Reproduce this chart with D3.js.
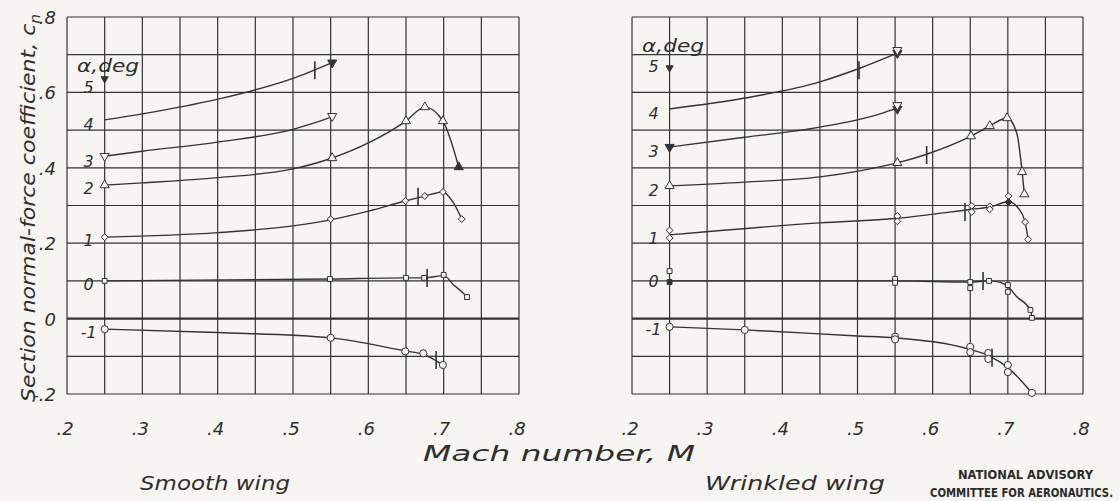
<!DOCTYPE html>
<html lang="en">
<head>
<meta charset="UTF-8">
<title>Section normal-force coefficient vs Mach number</title>
<style>
  body { margin: 0; background: #f6f5f1; }
  svg { display: block; }
  .hand { font-family: "DejaVu Sans", sans-serif; font-style: italic; font-weight: 200; fill: #2e2e2e; }
  .naca { font-family: "DejaVu Sans Condensed", "DejaVu Sans", sans-serif; font-weight: bold; fill: #2a2a2a; }
</style>
</head>
<body>
<svg width="1120" height="501"></svg>
<script src="https://d3js.org/d3.v7.min.js"></script>
<script>
// axis ticks
const xTicks = [0.2, 0.3, 0.4, 0.5, 0.6, 0.7, 0.8];
const xTickLabels = [".2", ".3", ".4", ".5", ".6", ".7", ".8"];
const yTicks = [0.8, 0.6, 0.4, 0.2, 0, -0.2];
const yTickLabels = [".8", ".6", ".4", ".2", "0", "-.2"];
const alphas = [5, 4, 3, 2, 1, 0, -1];

// smooth wing: faired curves [M, cn]
const smooth4 = [[0.25, 0.527], [0.3, 0.543], [0.4, 0.582], [0.5, 0.637], [0.552, 0.679]];
const smooth3 = [[0.25, 0.431], [0.3, 0.444], [0.4, 0.468], [0.5, 0.502], [0.552, 0.535]];
const smooth2 = [[0.25, 0.354], [0.3, 0.36], [0.4, 0.374], [0.5, 0.397], [0.552, 0.426], [0.6, 0.466], [0.65, 0.524], [0.675, 0.561], [0.699, 0.524], [0.72, 0.402]];
const smooth1 = [[0.25, 0.216], [0.4, 0.228], [0.5, 0.246], [0.55, 0.262], [0.6, 0.285], [0.649, 0.312], [0.675, 0.325], [0.699, 0.336], [0.712, 0.31], [0.724, 0.264]];
const smooth0 = [[0.25, 0.1], [0.55, 0.105], [0.65, 0.108], [0.674, 0.108], [0.7, 0.114], [0.713, 0.09], [0.724, 0.071], [0.731, 0.057]];
const smoothM1 = [[0.25, -0.028], [0.4, -0.037], [0.55, -0.051], [0.649, -0.086], [0.673, -0.095], [0.699, -0.123]];

// smooth wing: test points [alpha, M, cn, run]
const smoothPoints = [
  [5, 0.25, 0.636, 1],
  [4, 0.552, 0.679, 1],
  [3, 0.25, 0.431, 0], [3, 0.552, 0.537, 0],
  [2, 0.25, 0.354, 0], [2, 0.552, 0.426, 0], [2, 0.65, 0.524, 0], [2, 0.675, 0.561, 0], [2, 0.699, 0.524, 0], [2, 0.72, 0.402, 1],
  [1, 0.25, 0.216, 0], [1, 0.55, 0.264, 0], [1, 0.649, 0.312, 0], [1, 0.675, 0.325, 0], [1, 0.699, 0.336, 0], [1, 0.724, 0.264, 0],
  [0, 0.25, 0.1, 0], [0, 0.549, 0.105, 0], [0, 0.65, 0.108, 0], [0, 0.674, 0.108, 0], [0, 0.7, 0.116, 0], [0, 0.731, 0.057, 0],
  [-1, 0.25, -0.028, 0], [-1, 0.55, -0.051, 0], [-1, 0.649, -0.087, 0], [-1, 0.673, -0.092, 0], [-1, 0.699, -0.123, 0]
];
// critical Mach number marks [alpha, M, cn]
const smoothCrit = [[4, 0.529, 0.659], [1, 0.666, 0.323], [0, 0.678, 0.108], [-1, 0.69, -0.11]];
// cn at which each alpha number is written
const smoothLabelCn = [0.615, 0.515, 0.418, 0.346, 0.208, 0.092, -0.036];

// wrinkled wing
const wrinkled4 = [[0.25, 0.556], [0.35, 0.585], [0.45, 0.628], [0.503, 0.664], [0.553, 0.704]];
const wrinkled3 = [[0.25, 0.455], [0.35, 0.481], [0.45, 0.508], [0.53, 0.543], [0.553, 0.559]];
const wrinkled2 = [[0.25, 0.352], [0.35, 0.362], [0.45, 0.376], [0.503, 0.392], [0.553, 0.413], [0.592, 0.436], [0.651, 0.484], [0.676, 0.511], [0.699, 0.532], [0.712, 0.491], [0.719, 0.389], [0.722, 0.33]];
const wrinkled1 = [[0.25, 0.222], [0.45, 0.254], [0.553, 0.266], [0.652, 0.29], [0.676, 0.296], [0.701, 0.31], [0.715, 0.29], [0.723, 0.256], [0.727, 0.21]];
const wrinkled0 = [[0.25, 0.1], [0.55, 0.1], [0.65, 0.097], [0.675, 0.1], [0.69, 0.096], [0.7, 0.085], [0.712, 0.058], [0.73, 0.023], [0.732, 0.004]];
const wrinkledM1 = [[0.25, -0.022], [0.35, -0.03], [0.5, -0.046], [0.55, -0.051], [0.65, -0.082], [0.674, -0.098], [0.7, -0.13], [0.732, -0.197]];

const wrinkledPoints = [
  [5, 0.25, 0.665, 1],
  [4, 0.553, 0.704, 1], [4, 0.553, 0.712, 0],
  [3, 0.25, 0.455, 1], [3, 0.553, 0.556, 1], [3, 0.553, 0.566, 0],
  [2, 0.25, 0.352, 0], [2, 0.553, 0.413, 0], [2, 0.651, 0.484, 0], [2, 0.676, 0.511, 0], [2, 0.699, 0.532, 0], [2, 0.719, 0.389, 0], [2, 0.722, 0.33, 0],
  [1, 0.25, 0.234, 0], [1, 0.25, 0.214, 0], [1, 0.553, 0.272, 0], [1, 0.553, 0.258, 0], [1, 0.652, 0.299, 0], [1, 0.652, 0.283, 0],
  [1, 0.676, 0.298, 0], [1, 0.676, 0.29, 0], [1, 0.701, 0.325, 0], [1, 0.701, 0.309, 1], [1, 0.723, 0.256, 0], [1, 0.727, 0.21, 0],
  [0, 0.25, 0.126, 0], [0, 0.25, 0.097, 1], [0, 0.55, 0.105, 0], [0, 0.55, 0.095, 0], [0, 0.65, 0.097, 0], [0, 0.65, 0.081, 0],
  [0, 0.675, 0.1, 0], [0, 0.7, 0.089, 0], [0, 0.7, 0.071, 0], [0, 0.73, 0.023, 0], [0, 0.732, 0.002, 0],
  [-1, 0.25, -0.022, 0], [-1, 0.35, -0.03, 0], [-1, 0.55, -0.048, 0], [-1, 0.55, -0.055, 0], [-1, 0.65, -0.075, 0], [-1, 0.65, -0.089, 0],
  [-1, 0.674, -0.091, 0], [-1, 0.674, -0.107, 0], [-1, 0.7, -0.123, 0], [-1, 0.7, -0.142, 0], [-1, 0.732, -0.197, 0]
];
const wrinkledCrit = [[4, 0.502, 0.659], [2, 0.592, 0.434], [1, 0.643, 0.283], [0, 0.667, 0.1], [-1, 0.679, -0.104]];
const wrinkledLabelCn = [0.67, 0.546, 0.444, 0.342, 0.215, 0.1, -0.028];

const svg = d3.select("svg");
const ink = "#333";
const paper = "#f6f5f1";

const y = d3.scaleLinear().domain([-0.2, 0.8]).range([394, 17]);

const symbolFor = {
  "5": d3.symbolTriangle, "4": d3.symbolTriangle, "3": d3.symbolTriangle,
  "2": d3.symbolTriangle, "1": d3.symbolDiamond2, "0": d3.symbolSquare2, "-1": d3.symbolCircle
};

function drawPanel(x0, x1, curves, points, crit, labelCn, alphaBase) {
  const x = d3.scaleLinear().domain([0.2, 0.8]).range([x0, x1]);
  const g = svg.append("g");

  // grid
  const vLines = d3.range(0, 13).map(i => 0.2 + i * 0.05);
  const hLines = d3.range(0, 11).map(i => -0.2 + i * 0.1);
  g.selectAll(".v").data(vLines).enter().append("line")
    .attr("x1", d => x(d)).attr("x2", d => x(d))
    .attr("y1", y(0.8)).attr("y2", y(-0.2))
    .attr("stroke", ink).attr("stroke-width", 1.2);
  g.selectAll(".h").data(hLines).enter().append("line")
    .attr("x1", x(0.2)).attr("x2", x(0.8))
    .attr("y1", d => y(d)).attr("y2", d => y(d))
    .attr("stroke", ink)
    .attr("stroke-width", d => Math.abs(d) < 1e-6 ? 2.2 : 1.2);

  // x tick labels
  g.selectAll(".xt").data(xTicks).enter().append("text")
    .attr("class", "hand")
    .attr("x", d => x(d) - 2).attr("y", 435)
    .attr("text-anchor", "middle")
    .style("font-size", "18px")
    .text((d, i) => xTickLabels[i]);

  // faired curves
  const line = d3.line()
    .x(d => x(d[0])).y(d => y(d[1]))
    .curve(d3.curveMonotoneX);
  g.selectAll(".curve").data(curves).enter().append("path")
    .attr("d", d => line(d))
    .attr("fill", "none")
    .attr("stroke", ink)
    .attr("stroke-width", 1.4);

  // critical Mach ticks
  g.selectAll(".crit").data(crit).enter().append("line")
    .attr("x1", d => x(d[1])).attr("x2", d => x(d[1]))
    .attr("y1", d => y(d[2]) - 9).attr("y2", d => y(d[2]) + 9)
    .attr("stroke", ink).attr("stroke-width", 1.6);

  // test points
  g.selectAll(".pt").data(points).enter().append("path")
    .attr("transform", d => {
      const down = d[0] >= 3;
      return "translate(" + x(d[1]) + "," + y(d[2]) + ")" + (down ? " rotate(180)" : "");
    })
    .attr("d", d => d3.symbol().type(symbolFor[String(d[0])])
      .size(d[0] === 5 ? 22 : (d[0] === -1 ? 40 : (d[0] >= 2 ? 36 : 30)))())
    .attr("fill", d => d[3] === 1 ? ink : paper)
    .attr("stroke", ink)
    .attr("stroke-width", 1);

  // alpha labels
  const lx = x(0.25) - 16;
  g.selectAll(".al").data(alphas).enter().append("text")
    .attr("class", "hand")
    .attr("x", lx).attr("y", (d, i) => y(labelCn[i]) + 6)
    .attr("text-anchor", "middle")
    .style("font-size", "16px")
    .text(d => d === -1 ? "-1" : String(d));

  g.append("text")
    .attr("class", "hand")
    .attr("x", x(0.2) + 10).attr("y", alphaBase)
    .style("font-size", "17px")
    .attr("textLength", 62)
    .attr("lengthAdjust", "spacingAndGlyphs")
    .text("\u03b1,deg");

  return x;
}

drawPanel(67, 519, [smooth4, smooth3, smooth2, smooth1, smooth0, smoothM1], smoothPoints, smoothCrit, smoothLabelCn, 72);
drawPanel(632, 1083, [wrinkled4, wrinkled3, wrinkled2, wrinkled1, wrinkled0, wrinkledM1], wrinkledPoints, wrinkledCrit, wrinkledLabelCn, 52);

// y tick labels (left panel only)
svg.selectAll(".yt").data(yTicks).enter().append("text")
  .attr("class", "hand")
  .attr("x", 56).attr("y", d => y(d) + 7)
  .attr("text-anchor", "end")
  .style("font-size", "18px")
  .text((d, i) => yTickLabels[i]);

// y axis title
const yTitle = svg.append("text")
  .attr("class", "hand")
  .attr("transform", "translate(35,402) rotate(-90)")
  .style("font-size", "20px")
  .attr("textLength", 388)
  .attr("lengthAdjust", "spacingAndGlyphs");
yTitle.append("tspan").text("Section normal-force coefficient, c");
yTitle.append("tspan").attr("dy", 5).style("font-size", "14px").text("n");

svg.append("text")
  .attr("class", "hand")
  .attr("x", 423).attr("y", 461)
  .style("font-size", "22px")
  .attr("textLength", 272)
  .attr("lengthAdjust", "spacingAndGlyphs")
  .text("Mach number, M");

svg.append("text")
  .attr("class", "hand")
  .attr("x", 140).attr("y", 490)
  .style("font-size", "20px")
  .attr("textLength", 150)
  .attr("lengthAdjust", "spacingAndGlyphs")
  .text("Smooth wing");

svg.append("text")
  .attr("class", "hand")
  .attr("x", 705).attr("y", 490)
  .style("font-size", "20px")
  .attr("textLength", 180)
  .attr("lengthAdjust", "spacingAndGlyphs")
  .text("Wrinkled wing");

svg.append("text")
  .attr("class", "naca")
  .attr("x", 958).attr("y", 479)
  .style("font-size", "11.5px")
  .attr("textLength", 135)
  .attr("lengthAdjust", "spacingAndGlyphs")
  .text("NATIONAL ADVISORY");
svg.append("text")
  .attr("class", "naca")
  .attr("x", 930).attr("y", 497)
  .style("font-size", "11.5px")
  .attr("textLength", 183)
  .attr("lengthAdjust", "spacingAndGlyphs")
  .text("COMMITTEE FOR AERONAUTICS.");
</script>
</body>
</html>
